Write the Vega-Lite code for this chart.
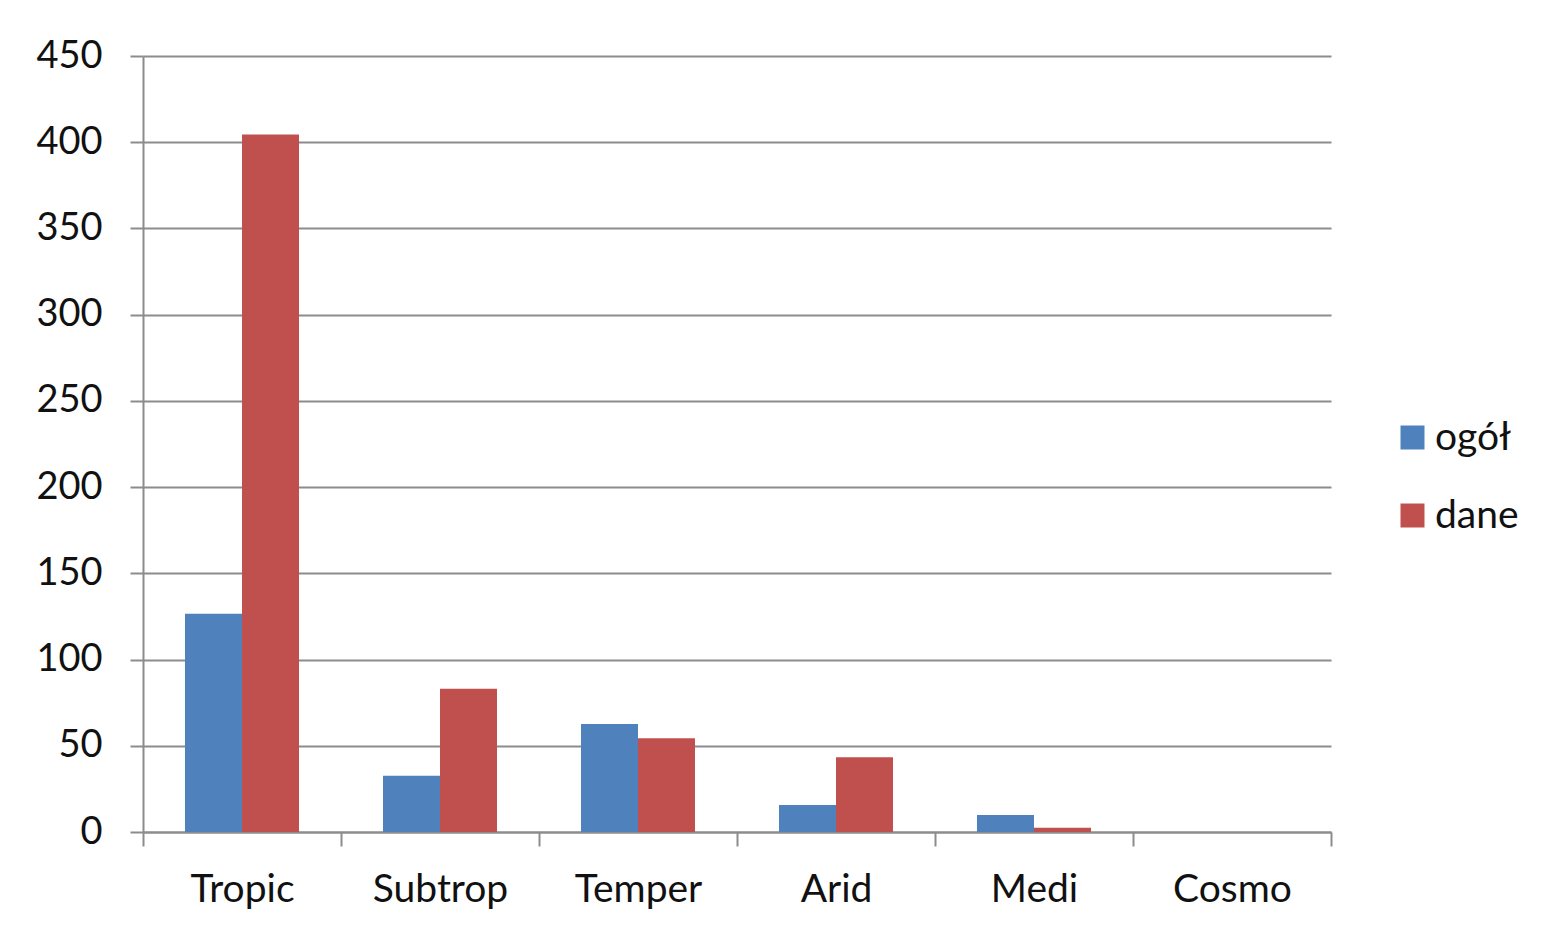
{
  "$schema": "https://vega.github.io/schema/vega-lite/v6.json",
  "autosize": {"type": "none"},
  "padding": {"left": 143, "top": 56, "right": 225, "bottom": 106},
  "width": 1188,
  "height": 776,
  "background": "white",
  "config": {
    "view": {"stroke": null},
    "font": "Lato",
    "axis": {"labelFont": "Lato", "labelColor": "#111111", "domainColor": "#8c8c8c", "tickColor": "#8c8c8c", "gridColor": "#8c8c8c", "domainWidth": 2, "tickWidth": 2, "gridWidth": 2}
  },
  "data": {
    "values": [
      {"zone": "Tropic", "series": "ogół", "value": 126.5},
      {"zone": "Tropic", "series": "dane", "value": 404.5},
      {"zone": "Subtrop", "series": "ogół", "value": 32.6},
      {"zone": "Subtrop", "series": "dane", "value": 83.1},
      {"zone": "Temper", "series": "ogół", "value": 62.6},
      {"zone": "Temper", "series": "dane", "value": 54.3},
      {"zone": "Arid", "series": "ogół", "value": 15.7},
      {"zone": "Arid", "series": "dane", "value": 43.3},
      {"zone": "Medi", "series": "ogół", "value": 9.9},
      {"zone": "Medi", "series": "dane", "value": 2.5},
      {"zone": "Cosmo", "series": "ogół", "value": 0},
      {"zone": "Cosmo", "series": "dane", "value": 0}
    ]
  },
  "mark": {"type": "bar"},
  "encoding": {
    "x": {
      "field": "zone", "type": "nominal", "sort": ["Tropic", "Subtrop", "Temper", "Arid", "Medi", "Cosmo"],
      "scale": {"paddingInner": 0, "paddingOuter": 0},
      "axis": {"title": null, "labelAngle": 0, "labelFontSize": 39, "tickSize": 14, "labelPadding": 24, "tickBand": "extent", "grid": false, "domain": true}
    },
    "xOffset": {
      "field": "series", "type": "nominal", "sort": ["ogół", "dane"],
      "scale": {"paddingInner": 0, "paddingOuter": 0.737}
    },
    "y": {
      "field": "value", "type": "quantitative",
      "scale": {"domain": [0, 450], "nice": false},
      "axis": {"title": null, "values": [0, 50, 100, 150, 200, 250, 300, 350, 400, 450], "labelFontSize": 38, "tickSize": 13, "labelPadding": 28, "grid": true, "domain": true}
    },
    "color": {
      "field": "series", "type": "nominal", "sort": ["ogół", "dane"],
      "scale": {"domain": ["ogół", "dane"], "range": ["#4F81BD", "#C0504D"]},
      "legend": {"title": null, "orient": "none", "legendX": 1250, "legendY": 362, "symbolType": "square", "symbolSize": 576, "symbolStrokeWidth": 0, "symbolOpacity": 1, "labelFontSize": 39, "labelColor": "#111111", "rowPadding": 38, "labelOffset": 3}
    }
  }
}
